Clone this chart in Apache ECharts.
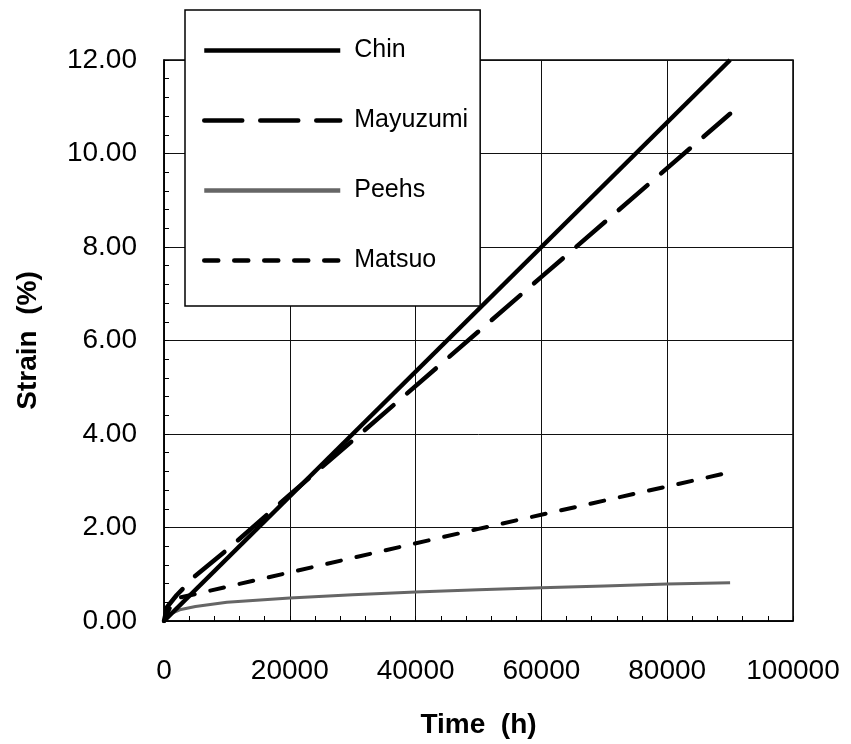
<!DOCTYPE html>
<html>
<head>
<meta charset="utf-8">
<script src="https://cdn.jsdelivr.net/npm/echarts@6/dist/echarts.min.js"></script>
<style>
html,body{margin:0;padding:0;background:#fff;}
#chart{width:851px;height:744px;}
</style>
</head>
<body>
<div id="chart"></div>
<script>
// ---- data ----
const seriesNames = ['Chin', 'Mayuzumi', 'Peehs', 'Matsuo'];

const chinTime = [0, 90000];
const chinStrain = [0, 12.0];

const mayuzumiTime = [0, 500, 2000, 5000, 10000, 20000, 30000, 60000, 90000];
const mayuzumiStrain = [0, 0.30, 0.55, 0.97, 1.52, 2.70, 3.86, 7.36, 10.85];

const peehsTime = [0, 1000, 2500, 5000, 10000, 20000, 30000, 40000, 50000, 60000, 70000, 80000, 90000];
const peehsStrain = [0, 0.15, 0.24, 0.31, 0.40, 0.49, 0.56, 0.62, 0.67, 0.71, 0.75, 0.79, 0.82];

const matsuoTime = [0, 1000, 2500, 20000, 50000, 89000];
const matsuoStrain = [0, 0.30, 0.50, 1.04, 1.97, 3.15];

const xTickLabels = ['0', '20000', '40000', '60000', '80000', '100000'];
const yTickLabels = ['0.00', '2.00', '4.00', '6.00', '8.00', '10.00', '12.00'];

function pairs(t, v) { return t.map((x, i) => [x, v[i]]); }

const chart = echarts.init(document.getElementById('chart'));
const tickFont = { fontFamily: 'Liberation Sans', fontSize: 28, color: '#000' };
const nameFont = { fontFamily: 'Liberation Sans', fontSize: 28, fontWeight: 'bold', color: '#000' };

chart.setOption({
  animation: false,
  backgroundColor: '#fff',
  grid: { left: 164, right: 58, top: 60, bottom: 118, show: true, borderColor: '#000', borderWidth: 1.5, backgroundColor: 'transparent' },
  xAxis: {
    type: 'value', min: 0, max: 100000, interval: 20000,
    name: 'Time  (h)', nameLocation: 'middle', nameGap: 90, nameTextStyle: nameFont,
    axisLine: { show: true, lineStyle: { color: '#000', width: 1.5 } },
    axisTick: { show: true, inside: true, length: 5, lineStyle: { color: '#000' } },
    minorTick: { show: true, splitNumber: 5, length: 5, lineStyle: { color: '#000' } },
    splitLine: { show: true, lineStyle: { color: '#111', width: 1 } },
    axisLabel: Object.assign({ margin: 36, formatter: v => xTickLabels[Math.round(v / 20000)] }, tickFont)
  },
  yAxis: {
    type: 'value', min: 0, max: 12, interval: 2,
    name: 'Strain  (%)', nameLocation: 'middle', nameGap: 122, nameTextStyle: nameFont,
    axisLine: { show: true, lineStyle: { color: '#000', width: 1.5 } },
    axisTick: { show: true, inside: true, length: 5, lineStyle: { color: '#000' } },
    minorTick: { show: true, splitNumber: 5, length: 5, lineStyle: { color: '#000' } },
    splitLine: { show: true, lineStyle: { color: '#111', width: 1 } },
    axisLabel: Object.assign({ margin: 27, formatter: v => yTickLabels[Math.round(v / 2)] }, tickFont)
  },
  legend: {
    orient: 'vertical', left: 185, top: 10,
    data: seriesNames,
    backgroundColor: '#fff', borderColor: '#000', borderWidth: 1.5, borderRadius: 0,
    padding: [28, 12, 33, 17],
    itemWidth: 136, itemHeight: 20, itemGap: 45,
    itemStyle: { opacity: 0 },
    lineStyle: { width: 4.5, type: 'inherit', color: 'inherit' },
    textStyle: { fontFamily: 'Liberation Sans', fontSize: 25, color: '#000', padding: [0, 0, 0, 9] },
    z: 10
  },
  series: [
    { name: 'Chin', type: 'line', data: pairs(chinTime, chinStrain), symbol: 'none', color: '#000',
      lineStyle: { color: '#000', width: 4.5, type: 'solid' }, z: 4 },
    { name: 'Mayuzumi', type: 'line', data: pairs(mayuzumiTime, mayuzumiStrain), symbol: 'none', color: '#000',
      lineStyle: { color: '#000', width: 4.5, type: [38, 18], cap: 'round' }, z: 3 },
    { name: 'Peehs', type: 'line', data: pairs(peehsTime, peehsStrain), symbol: 'none', color: '#666',
      lineStyle: { color: '#666', width: 3, type: 'solid' }, z: 2 },
    { name: 'Matsuo', type: 'line', data: pairs(matsuoTime, matsuoStrain), symbol: 'none', color: '#000',
      lineStyle: { color: '#000', width: 4, type: [14, 16], cap: 'round' }, z: 3 }
  ]
});
</script>
</body>
</html>
